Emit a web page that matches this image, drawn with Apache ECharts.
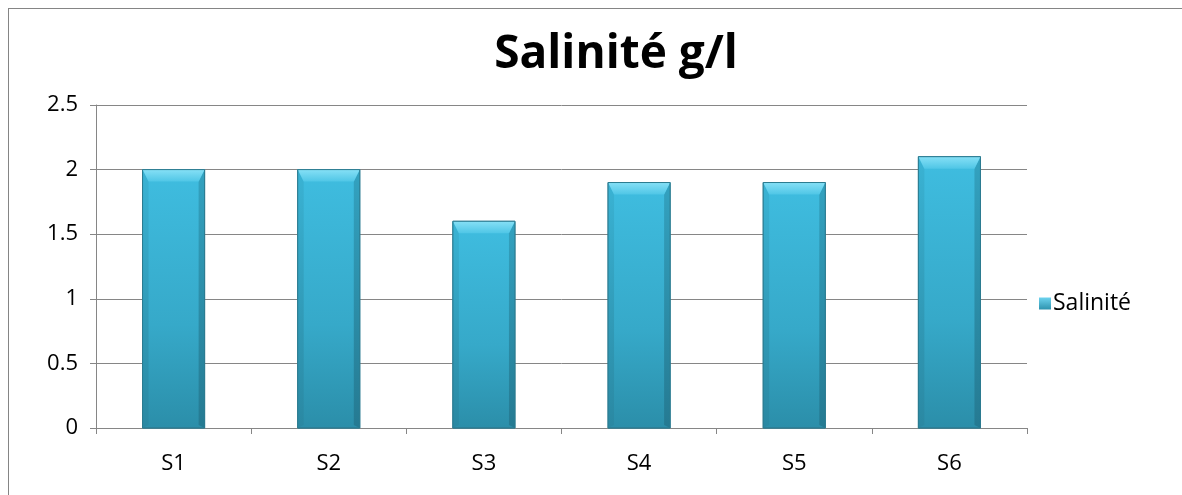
<!DOCTYPE html>
<html>
<head>
<meta charset="utf-8">
<script src="https://cdn.jsdelivr.net/npm/echarts@6/dist/echarts.min.js"></script>
<style>
  html, body { margin: 0; padding: 0; background: #fff; }
  #frame { position: absolute; left: 0; top: 0; width: 1182px; height: 495px; overflow: hidden; }
  #border { position: absolute; left: 8px; top: 8px; width: 1200px; height: 520px;
            border-left: 1px solid #858585; border-top: 1px solid #858585; }
  #chart { position: absolute; left: 0; top: 0; width: 1182px; height: 495px; }
</style>
</head>
<body>
<div id="frame">
  <div id="border"></div>
  <div id="chart"></div>
</div>
<script>
// Salinité par station (g/l)
const stations = ['S1', 'S2', 'S3', 'S4', 'S5', 'S6'];
const salinite = [2.0, 2.0, 1.6, 1.9, 1.9, 2.1];
const yTicks = { min: 0, max: 2.5, interval: 0.5 };

const chart = echarts.init(document.getElementById('chart'), null, { renderer: 'canvas' });

// Beveled bar: face with vertical shading, lighter top bevel, darker side edges
function renderBevelBar(params, api) {
  const idx = api.value(0);
  const val = api.value(1);
  const top = api.coord([idx, val]);
  const base = api.coord([idx, 0]);
  const bandW = api.size([1, 0])[0];
  const w = bandW * 0.4;
  const x0 = top[0] - w / 2, x1 = top[0] + w / 2;
  const y0 = top[1], y1 = base[1];
  const b = 12; // bevel depth
  const sb = 6; // side bevel
  return {
    type: 'group',
    children: [
      { type: 'rect', shape: { x: x0, y: y0, width: w, height: y1 - y0 },
        style: { fill: new echarts.graphic.LinearGradient(0, 0, 0, 1, [
          { offset: 0, color: '#3fbde0' }, { offset: 0.6, color: '#36a9c9' }, { offset: 1, color: '#2b8ea9' }]),
          stroke: '#2f7f94', lineWidth: 1 } },
      // left edge
      { type: 'polygon', shape: { points: [[x0, y0], [x0 + sb, y0 + b], [x0 + sb, y1 - 3], [x0, y1]] },
        style: { fill: new echarts.graphic.LinearGradient(0, 0, 0, 1, [
          { offset: 0, color: '#3ab3d4' }, { offset: 1, color: '#2a88a2' }]) } },
      // right edge
      { type: 'polygon', shape: { points: [[x1, y0], [x1 - sb, y0 + b], [x1 - sb, y1 - 3], [x1, y1]] },
        style: { fill: new echarts.graphic.LinearGradient(0, 0, 0, 1, [
          { offset: 0, color: '#33a2c0' }, { offset: 1, color: '#257a92' }]) } },
      // top bevel
      { type: 'polygon', shape: { points: [[x0, y0], [x1, y0], [x1 - sb, y0 + b], [x0 + sb, y0 + b]] },
        style: { fill: new echarts.graphic.LinearGradient(0, 0, 0, 1, [
          { offset: 0, color: '#86e0f6' }, { offset: 1, color: '#4fc6e6' }]) } },
      // outline
      { type: 'rect', shape: { x: x0, y: y0, width: w, height: y1 - y0 },
        style: { fill: 'none', stroke: '#2c7b90', lineWidth: 1 } }
    ]
  };
}

chart.setOption({
  animation: false,
  title: {
    text: 'Salinité g/l',
    left: 611, top: 27, textAlign: 'center',
    textStyle: { fontFamily: 'Open Sans', fontWeight: 'bold', fontSize: 46, color: '#000' }
  },
  legend: {
    data: ['Salinité'],
    left: 1034, top: 287, orient: 'vertical',
    icon: 'rect', itemWidth: 12, itemHeight: 12, itemGap: 4,
    textStyle: { fontFamily: 'Open Sans', fontSize: 23, color: '#000', padding: [0, 0, 0, -3] }
  },
  grid: { left: 96, top: 105, width: 931, height: 323, containLabel: false },
  xAxis: {
    type: 'category', data: stations,
    axisLine: { lineStyle: { color: '#868686', width: 1 } },
    axisTick: { show: true, length: 6, alignWithLabel: false, lineStyle: { color: '#868686' } },
    axisLabel: { fontFamily: 'Open Sans', fontSize: 22, color: '#000', margin: 25 },
    splitLine: { show: false }
  },
  yAxis: {
    type: 'value', min: yTicks.min, max: yTicks.max, interval: yTicks.interval,
    axisLine: { show: true, lineStyle: { color: '#868686', width: 1 } },
    axisTick: { show: true, length: 6, lineStyle: { color: '#868686' } },
    axisLabel: { fontFamily: 'Open Sans', fontSize: 22, color: '#000', margin: 18 },
    splitLine: { show: true, lineStyle: { color: '#868686', width: 1 } }
  },
  series: [{
    name: 'Salinité',
    type: 'custom',
    itemStyle: { color: new echarts.graphic.LinearGradient(0, 0, 0, 1, [
      { offset: 0, color: '#6dd3ef' }, { offset: 1, color: '#2d93ae' }]) },
    encode: { x: 0, y: 1 },
    data: salinite.map((v, i) => [i, v]),
    renderItem: renderBevelBar
  }]
});
</script>
</body>
</html>
